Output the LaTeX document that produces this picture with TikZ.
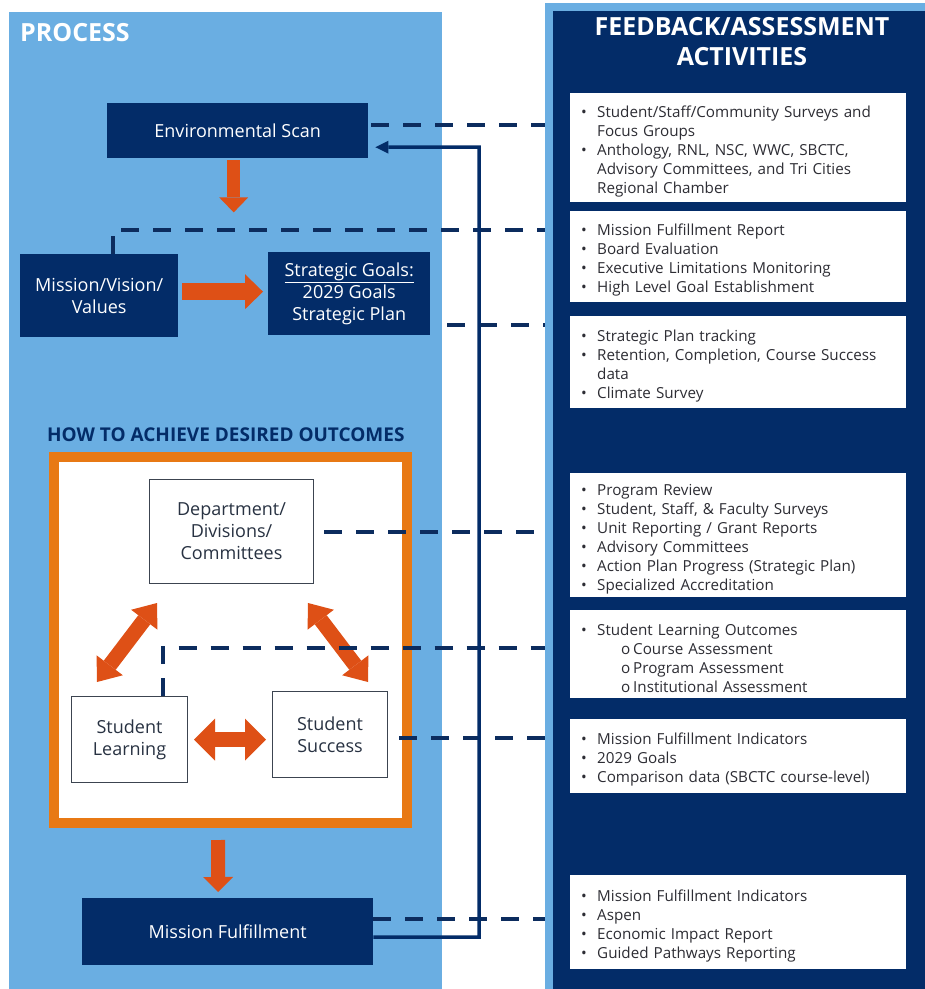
\documentclass[tikz,border=0pt]{standalone}
\usepackage{fontspec}
\setmainfont{Open Sans}
\usetikzlibrary{arrows.meta}

\definecolor{panelblue}{RGB}{106,174,226}
\definecolor{procnavy}{RGB}{3,44,104}
\definecolor{dashnavy}{RGB}{12,44,94}
\definecolor{frameorange}{RGB}{232,121,20}
\definecolor{arroworange}{RGB}{222,80,22}
\definecolor{boxline}{RGB}{60,68,80}
\definecolor{boxtext}{RGB}{40,50,66}
\definecolor{listtext}{RGB}{45,45,52}

\newcommand\listfont{\fontsize{15.2}{19}\selectfont\spaceskip=6.5pt plus 2pt\relax}
\newcommand\fbitem[1]{\par\noindent\hangindent=16pt\hangafter=1\makebox[16pt][l]{\textbullet}#1\par}
\newcommand\fbsub[1]{\par\noindent\hspace*{40pt}\makebox[12pt][l]{o}#1\par}

\tikzset{
  darkbox/.style={fill=procnavy, text=white, align=center, inner sep=0pt, anchor=north west,
    font=\fontsize{18}{22}\selectfont},
  whitebox/.style={fill=white, draw=boxline, line width=1pt, text=boxtext, align=center,
    inner sep=0pt, anchor=north west, font=\fontsize{18}{22}\selectfont},
  fbbox/.style={fill=white, text=listtext, align=left, anchor=north west, inner xsep=11pt,
    inner ysep=0pt, minimum width=336pt, text width=314pt, font=\listfont},
  feed/.style={draw=dashnavy, line width=4pt, dash pattern=on 18pt off 14pt},
  loopback/.style={draw=procnavy, line width=3.5pt, -{Triangle[length=13pt,width=13pt,line width=0pt]}},
  fatarrow/.style={draw=arroworange, line width=13pt, -{Triangle[length=15pt,width=29pt,line width=0pt]}},
  fatboth/.style={draw=arroworange, line width=15pt,
    {Triangle[length=21pt,width=#1,line width=0pt]}-{Triangle[length=21pt,width=#1,line width=0pt]}},
}

\begin{document}
\begin{tikzpicture}[x=1pt,y=-1pt]
\useasboundingbox (0,0) rectangle (925,989);

% the two columns
\fill[panelblue] (9,12) rectangle (442,989);
\node[fill=procnavy, draw=panelblue, line width=8pt, inner sep=0pt, anchor=north west,
  minimum width=390pt, minimum height=995pt] (fbpanel) at (545,3) {};

\node[anchor=north west, inner sep=0pt, text=white, font=\fontsize{25}{30}\bfseries\selectfont]
  (proc) at (20,23) {PROCESS};
\node[text=white, align=center, font=\fontsize{25}{30}\bfseries\selectfont]
  (fbtitle) at (742,42) {FEEDBACK/ASSESSMENT\\ACTIVITIES};

% process boxes
\node[darkbox, minimum width=261pt, minimum height=55pt] (env) at (107,103) {Environmental Scan};
\node[darkbox, minimum width=158pt, minimum height=83pt] (mvv) at (20,254) {Mission/Vision/\\Values};
\node[darkbox, minimum width=162pt, minimum height=83pt] (strat) at (268,252)
  {\underline{Strategic Goals:}\\2029 Goals\\Strategic Plan};

\node[anchor=west, inner sep=0pt, text=procnavy, font=\fontsize{19}{22}\bfseries\selectfont]
  (howto) at (47,435) {HOW TO ACHIEVE DESIRED OUTCOMES};
\node[draw=frameorange, fill=white, line width=10pt, inner sep=0pt, anchor=north west,
  minimum width=353pt, minimum height=366pt] (frame) at (49,452) {};

\node[whitebox, minimum width=164pt, minimum height=104pt] (dept) at (149,479)
  {Department/\\Divisions/\\Committees};
\node[whitebox, minimum width=116pt, minimum height=86pt] (sl) at (71,696) {Student\\Learning};
\node[whitebox, minimum width=115pt, minimum height=86pt] (ss) at (272,691) {Student\\Success};

\node[darkbox, minimum width=291pt, minimum height=67pt] (mf) at (82,898) {Mission Fulfillment};

% feedback lists
\node[fbbox, minimum height=109pt] (fb1) at (570,93) {%
  \fbitem{Student/Staff/Community Surveys and\newline Focus Groups}
  \fbitem{Anthology, RNL, NSC, WWC, SBCTC,\newline Advisory Committees, and Tri Cities\newline Regional Chamber}};
\node[fbbox, minimum height=91pt] (fb2) at (570,211) {%
  \fbitem{Mission Fulfillment Report}
  \fbitem{Board Evaluation}
  \fbitem{Executive Limitations Monitoring}
  \fbitem{High Level Goal Establishment}};
\node[fbbox, minimum height=92pt] (fb3) at (570,316) {%
  \fbitem{Strategic Plan tracking}
  \fbitem{Retention, Completion, Course Success\newline data}
  \fbitem{Climate Survey}};
\node[fbbox, minimum height=124pt] (fb4) at (570,473) {%
  \fbitem{Program Review}
  \fbitem{Student, Staff, \& Faculty Surveys}
  \fbitem{Unit Reporting / Grant Reports}
  \fbitem{Advisory Committees}
  \fbitem{Action Plan Progress (Strategic Plan)}
  \fbitem{Specialized Accreditation}};
\node[fbbox, minimum height=88pt] (fb5) at (570,610) {%
  \fbitem{Student Learning Outcomes}
  \fbsub{Course Assessment}
  \fbsub{Program Assessment}
  \fbsub{Institutional Assessment}};
\node[fbbox, minimum height=74pt] (fb6) at (570,719) {%
  \fbitem{Mission Fulfillment Indicators}
  \fbitem{2029 Goals}
  \fbitem{Comparison data (SBCTC course-level)}};
\node[fbbox, minimum height=94pt] (fb7) at (570,875) {%
  \fbitem{Mission Fulfillment Indicators}
  \fbitem{Aspen}
  \fbitem{Economic Impact Report}
  \fbitem{Guided Pathways Reporting}};

% orange flow arrows
\draw[fatarrow] ([shift={(-4,2)}]env.south) -- ++(0,52);
\draw[fatarrow, line width=17pt, -{Triangle[length=18pt,width=35pt,line width=0pt]},
  shorten <=4pt, shorten >=5pt] ([yshift=2pt]mvv.east |- strat.west) -- ([yshift=2pt]strat.west);
\draw[fatboth=33pt] ([shift={(8,19)}]dept.south west) -- ([shift={(26,-14)}]sl.north west);
\draw[fatboth=33pt] ([shift={(-6,19)}]dept.south east) -- ([shift={(-20,-9)}]ss.north east);
\draw[fatboth=42pt] ([xshift=6pt]sl.east) -- ([xshift=-6pt]ss.west |- sl.east);
\draw[fatarrow, line width=14pt, -{Triangle[length=15pt,width=30pt,line width=0pt]}]
  ([shift={(-12.5,12)}]frame.south) -- ([shift={(-9.5,-6)}]mf.north);

% dashed links to the assessment column
\draw[feed] ([shift={(3,-5.5)}]env.east) coordinate (d1) -- (d1 -| fbpanel.west);
\draw[feed] ([xshift=14pt]mvv.north) |- ([yshift=24pt]mvv.north -| fbpanel.west);
\draw[feed] ([shift={(17,31.5)}]strat.east) coordinate (d3) -- (d3 -| fbpanel.west);
\draw[feed] ([xshift=10pt]dept.east) coordinate (d4) -- (d4 -| fbpanel.west);
\draw[feed] ([xshift=33pt]sl.north) |- ([yshift=48pt]sl.north -| fbpanel.west);
\draw[feed] ([shift={(11,3)}]ss.east) coordinate (d6) -- (d6 -| fbpanel.west);
\draw[feed] ([yshift=12.5pt]mf.east) coordinate (d7) -- (d7 -| fbpanel.west);

% loop back to the scan
\coordinate (rail) at (479,147);
\draw[loopback] ([yshift=-5.5pt]mf.east) -| (rail) -- ([shift={(7,16.5)}]env.east);
\end{tikzpicture}
\end{document}
